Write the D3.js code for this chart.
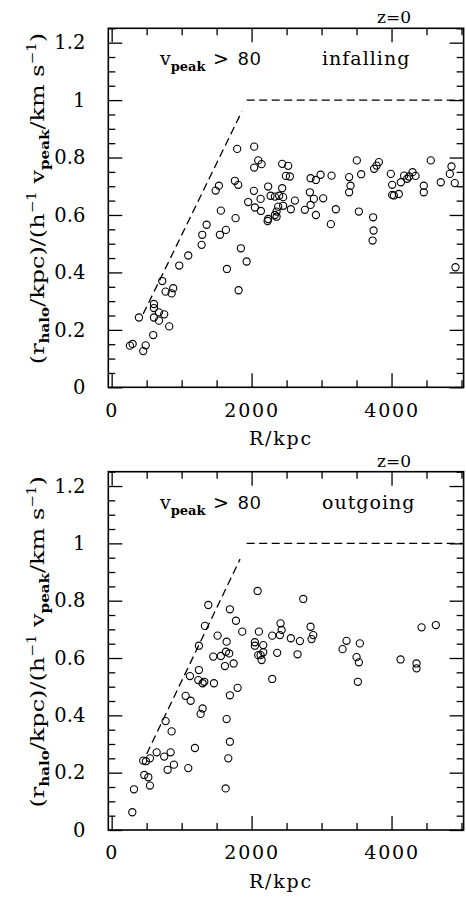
<!DOCTYPE html>
<html><head><meta charset="utf-8">
<script src="https://cdn.jsdelivr.net/npm/d3@7/dist/d3.min.js"></script>
<style>body{margin:0;background:#fff}svg{display:block}</style>
</head><body>
<script>
// ---- data ----
const xMajorTicks = [0, 2000, 4000];
const xMinorTicks = [500, 1000, 1500, 2500, 3000, 3500, 4500, 5000];
const yMajorTicks = [0, 0.2, 0.4, 0.6, 0.8, 1.0, 1.2];
const yTickLabels = ["0", "0.2", "0.4", "0.6", "0.8", "1", "1.2"];
const yMinorTicks = [0.05,0.1,0.15,0.25,0.3,0.35,0.45,0.5,0.55,0.65,0.7,0.75,0.85,0.9,0.95,1.05,1.1,1.15,1.25];

const infallR = [1794,2037,2095,2143,2037,2437,2523,2490,2547,1761,1809,2237,2033,2437,2271,2333,2394,2129,2619,2451,1951,2047,2380,2451,2133,2357,2561,2333,2357,2237,2229,1771,1633,
 1533,1486,1561,
 1357,1295,1547,1286,1095,966,1847,1929,1647,1814,723,771,880,857,604,604,676,751,604,676,390,823,594,261,300,486,451,
 2843,2919,2986,3143,2833,2890,2843,3023,2761,2919,3204,3394,3414,3394,3504,3566,3533,3737,3751,3786,3819,3990,4009,4009,4033,4104,4133,4180,4223,4252,4300,4343,4461,4461,4561,4704,4833,4857,4904,
 3133,3743,3729,4914];
const infallV = [0.830,0.838,0.790,0.777,0.765,0.778,0.771,0.736,0.734,0.719,0.705,0.699,0.684,0.693,0.667,0.664,0.667,0.656,0.650,0.662,0.645,0.626,0.629,0.632,0.614,0.612,0.620,0.600,0.594,0.586,0.579,0.589,0.548,
 0.702,0.685,0.615,
 0.566,0.531,0.531,0.496,0.459,0.424,0.484,0.438,0.412,0.338,0.370,0.333,0.345,0.327,0.290,0.276,0.261,0.254,0.243,0.232,0.243,0.212,0.182,0.145,0.151,0.146,0.126,
 0.728,0.722,0.740,0.737,0.679,0.656,0.635,0.658,0.618,0.600,0.620,0.732,0.702,0.679,0.790,0.742,0.612,0.592,0.761,0.772,0.784,0.743,0.705,0.670,0.668,0.673,0.714,0.737,0.726,0.734,0.749,0.736,0.702,0.679,0.790,0.714,0.743,0.769,0.711,
 0.568,0.546,0.511,0.418];

const outR = [2086,1381,1690,1776,1333,1866,1514,2104,2414,2429,2404,2295,2561,2690,1643,1247,2047,2047,2167,1633,1680,1452,1561,2167,2095,2129,2143,2366,2657,1619,1743,1247,1119,1238,1300,1324,1462,2295,1800,1690,
 1057,1129,1300,1271,1643,771,857,1690,1190,643,843,547,451,490,751,1667,890,800,1095,466,524,547,319,1629,295,
 2738,2843,2881,2857,3357,3547,3300,3500,3533,3519,4129,4429,4633,4357,4357];
const outV = [0.834,0.785,0.770,0.730,0.712,0.692,0.678,0.692,0.721,0.698,0.680,0.678,0.669,0.659,0.657,0.643,0.655,0.643,0.645,0.622,0.616,0.605,0.607,0.620,0.610,0.610,0.593,0.618,0.613,0.572,0.581,0.558,0.537,0.523,0.512,0.517,0.512,0.527,0.496,0.470,
 0.468,0.451,0.424,0.405,0.387,0.380,0.344,0.308,0.286,0.271,0.271,0.250,0.242,0.240,0.256,0.250,0.228,0.210,0.216,0.192,0.184,0.155,0.142,0.145,0.062,
 0.806,0.709,0.680,0.666,0.660,0.651,0.631,0.603,0.585,0.517,0.595,0.707,0.715,0.581,0.564];

// dashed guide lines: [R, value] endpoints
const infallDiag = [[450, 0.255], [1860, 0.96]];
const outDiag = [[500, 0.265], [1835, 0.945]];
const flatLine = [[1930, 1.0], [5030, 1.0]];

const panels = [
  {R: infallR, V: infallV, diag: infallDiag, label: "infalling", top: 28.3, bottom: 387.3},
  {R: outR, V: outV, diag: outDiag, label: "outgoing", top: 471.7, bottom: 830}
];

// ---- drawing ----
const W = 466, H = 898;
const svg = d3.select("body").append("svg").attr("width", W).attr("height", H);
const FONT = "DejaVu Serif";
const x = d3.scaleLinear().domain([-48, 5030]).range([108.3, 463.6]);

panels.forEach(p => {
  const y = d3.scaleLinear().domain([0, 1.25]).range([p.bottom, p.top]);
  const g = svg.append("g");
  const left = x.range()[0], right = x.range()[1];

  const addAxis = (axis, tx, ty) => {
    const a = g.append("g").attr("transform", `translate(${tx},${ty})`).call(axis);
    a.select(".domain").remove();
    a.selectAll(".tick line").attr("stroke", "#000").attr("stroke-width", 1.3);
    a.selectAll("text").attr("font-family", FONT).attr("font-size", 19).attr("fill", "#000");
    return a;
  };
  // bottom
  addAxis(d3.axisBottom(x).tickValues(xMajorTicks).tickSizeInner(-14).tickSizeOuter(0).tickPadding(16)
      .tickFormat(d => String(d)), 0, p.bottom)
    .selectAll("text").attr("letter-spacing", 1.8);
  addAxis(d3.axisBottom(x).tickValues(xMinorTicks).tickSizeInner(-7).tickSizeOuter(0).tickFormat(""), 0, p.bottom);
  // top
  addAxis(d3.axisTop(x).tickValues(xMajorTicks).tickSizeInner(-14).tickSizeOuter(0).tickFormat(""), 0, p.top);
  addAxis(d3.axisTop(x).tickValues(xMinorTicks).tickSizeInner(-7).tickSizeOuter(0).tickFormat(""), 0, p.top);
  // left
  addAxis(d3.axisLeft(y).tickValues(yMajorTicks).tickSizeInner(-14).tickSizeOuter(0).tickPadding(23)
      .tickFormat((d, i) => yTickLabels[i]), left, 0)
    .selectAll("text").attr("font-size", 19.5);
  addAxis(d3.axisLeft(y).tickValues(yMinorTicks).tickSizeInner(-7).tickSizeOuter(0).tickFormat(""), left, 0);
  // right
  addAxis(d3.axisRight(y).tickValues(yMajorTicks).tickSizeInner(-14).tickSizeOuter(0).tickFormat(""), right, 0);
  addAxis(d3.axisRight(y).tickValues(yMinorTicks).tickSizeInner(-7).tickSizeOuter(0).tickFormat(""), right, 0);

  // frame
  g.append("rect").attr("x", left).attr("y", p.top).attr("width", right - left).attr("height", p.bottom - p.top)
    .attr("fill", "none").attr("stroke", "#000").attr("stroke-width", 1.6);

  // dashed lines
  const line = d3.line().x(d => x(d[0])).y(d => y(d[1]));
  [p.diag, flatLine].forEach(L => {
    g.append("path").attr("d", line(L)).attr("fill", "none").attr("stroke", "#000")
      .attr("stroke-width", 1.3).attr("stroke-dasharray", "8,4.5");
  });

  // points
  const pts = p.R.map((r, i) => [r, p.V[i]]);
  g.selectAll("circle.pt").data(pts).join("circle").attr("class", "pt")
    .attr("cx", d => x(d[0])).attr("cy", d => y(d[1])).attr("r", 3.6)
    .attr("fill", "none").attr("stroke", "#000").attr("stroke-width", 1.1);

  // v_peak > 80
  const t = g.append("text").attr("x", 160).attr("y", p.top + 37).attr("font-family", FONT).attr("font-size", 19);
  t.append("tspan").text("v");
  t.append("tspan").attr("font-size", 13).attr("font-weight", "bold").attr("dy", 6).text("peak");
  t.append("tspan").attr("dy", -6).attr("x", 213).text(">");
  g.append("text").attr("x", 238).attr("y", p.top + 37).attr("font-family", "Liberation Sans").attr("font-size", 19)
    .attr("letter-spacing", 1.5).text("80");
  // category label
  g.append("text").attr("x", 322).attr("y", p.top + 37).attr("font-family", FONT).attr("font-size", 19)
    .attr("letter-spacing", 1).text(p.label);
  // z=0
  g.append("text").attr("x", 377).attr("y", p.top - 5).attr("font-family", FONT).attr("font-size", 17).text("z=0");
  // x label
  g.append("text").attr("x", 281).attr("y", p.bottom + 58).attr("text-anchor", "middle").attr("font-family", FONT)
    .attr("font-size", 19).attr("letter-spacing", 1.8).text("R/kpc");
  // y label
  const cy = p.top + 170.2;
  const yl = g.append("text").attr("transform", `translate(44,${cy}) rotate(-90) scale(1.26,1)`).attr("text-anchor", "middle")
    .attr("font-family", FONT).attr("font-size", 19);
  yl.append("tspan").text("(r");
  yl.append("tspan").attr("font-size", 12).attr("font-weight", "bold").attr("dy", 5).text("halo");
  yl.append("tspan").attr("dy", -5).text("/kpc)/(h");
  yl.append("tspan").attr("font-size", 12).attr("dy", -8).text("−1");
  yl.append("tspan").attr("dy", 8).text(" v");
  yl.append("tspan").attr("font-size", 12).attr("font-weight", "bold").attr("dy", 5).text("peak");
  yl.append("tspan").attr("dy", -5).text("/km s");
  yl.append("tspan").attr("font-size", 12).attr("dy", -8).text("−1");
  yl.append("tspan").attr("dy", 8).text(")");
});
</script>
</body></html>
